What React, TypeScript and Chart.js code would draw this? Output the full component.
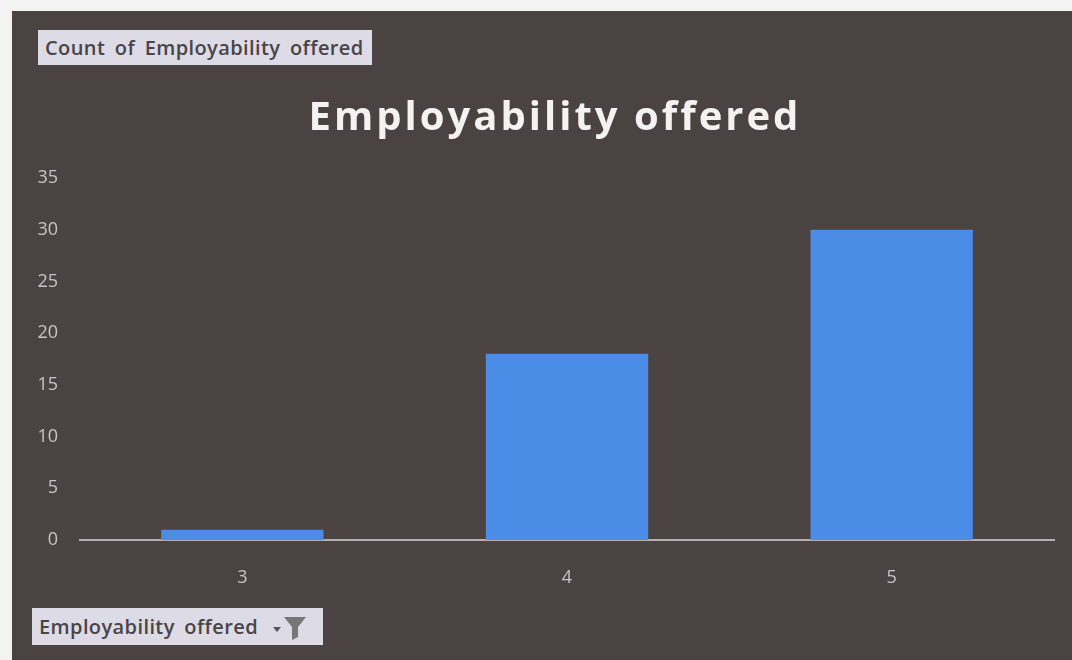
import React, { useEffect, useRef } from "react";
import { Chart, registerables } from "chart.js";

Chart.register(...registerables);

const categories: string[] = ["3", "4", "5"];
const counts: number[] = [1, 18, 30];
const chartTitle = "Employability offered";
const valueFieldLabel = "Count of Employability offered";
const axisFieldLabel = "Employability offered";

const titlePlugin = {
  id: "customTitle",
  afterDraw(chart: any) {
    const { ctx, chartArea } = chart;
    ctx.save();
    ctx.font = "bold 40px 'Open Sans', sans-serif";
    (ctx as any).letterSpacing = "3px";
    ctx.fillStyle = "#f4f2f2";
    ctx.textAlign = "center";
    ctx.textBaseline = "alphabetic";
    const cx = (chartArea.left + chartArea.right) / 2 - 12;
    ctx.fillText(chartTitle, cx, chartArea.top - 48);
    ctx.restore();
  },
};

export default function App() {
  const canvasRef = useRef<HTMLCanvasElement | null>(null);

  useEffect(() => {
    document.body.style.margin = "0";
    const ctx = canvasRef.current;
    if (!ctx) return;
    const chart = new Chart(ctx, {
      type: "bar",
      data: {
        labels: categories,
        datasets: [
          {
            label: axisFieldLabel,
            data: counts,
            backgroundColor: "#4a8ce6",
            borderWidth: 0,
            barPercentage: 0.5,
            categoryPercentage: 1,
          },
        ],
      },
      options: {
        animation: false,
        responsive: false,
        maintainAspectRatio: false,
        layout: { padding: { left: 0, right: 18, top: 167, bottom: 0 } },
        plugins: {
          legend: { display: false },
          tooltip: { enabled: false },
          title: { display: false },
        },
        scales: {
          x: {
            grid: { display: false, drawTicks: false },
            border: { display: true, color: "#b4b0b0", width: 2 },
            ticks: {
              color: "#c8c4c4",
              font: { family: "'Open Sans', sans-serif", size: 18 },
              padding: 27,
            },
            afterFit: (scale: any) => {
              scale.height = 120;
            },
          },
          y: {
            min: 0,
            max: 35,
            grid: { display: false, drawTicks: false },
            border: { display: false },
            ticks: {
              stepSize: 5,
              color: "#c8c4c4",
              font: { family: "'Open Sans', sans-serif", size: 18 },
              padding: 22,
            },
            afterFit: (scale: any) => {
              scale.width = 68;
            },
          },
        },
      },
      plugins: [titlePlugin],
    });
    return () => chart.destroy();
  }, []);

  const btnBase: React.CSSProperties = {
    position: "absolute",
    background: "#dcdbe6",
    color: "#4a4446",
    fontFamily: "'Open Sans', sans-serif",
    fontWeight: 600,
    fontSize: 20,
    letterSpacing: "0.4px",
    wordSpacing: "4px",
    display: "flex",
    alignItems: "center",
    boxSizing: "border-box",
    paddingLeft: 7,
    whiteSpace: "nowrap",
  };

  return (
    <div
      style={{
        position: "fixed",
        left: 0,
        top: 0,
        width: 1072,
        height: 660,
        background: "#f3f3f3",
        overflow: "hidden",
      }}
    >
      <div
        style={{
          position: "absolute",
          left: 12,
          top: 11,
          width: 1060,
          height: 649,
          background: "#4b4341",
        }}
      >
        <canvas ref={canvasRef} width={1060} height={649} style={{ display: "block" }} />
      </div>
      <div style={{ ...btnBase, left: 38, top: 30, width: 334, height: 35 }}>{valueFieldLabel}</div>
      <div style={{ ...btnBase, left: 32, top: 608, width: 291, height: 37 }}>
        <span>{axisFieldLabel}</span>
        <svg width="40" height="30" viewBox="0 0 40 30" style={{ marginLeft: 12 }}>
          <polygon points="3,15 11,15 7,20" fill="#555" />
          <polygon points="14,5 36,5 28,15 28,25 22,28 22,15" fill="#777" />
        </svg>
      </div>
    </div>
  );
}
